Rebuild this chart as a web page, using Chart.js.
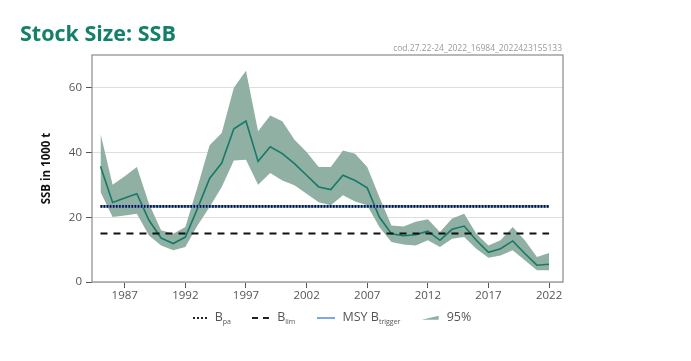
<!DOCTYPE html>
<html>
<head>
<meta charset="utf-8">
<script src="https://cdn.jsdelivr.net/npm/chart.js@4"></script>
<style>
  body { margin: 0; background: #fff; font-family: "Open Sans", sans-serif; }
  #wrap { position: relative; width: 691px; height: 361px; }
  #chart { position: absolute; left: 0; top: 0; }
  .title { position: absolute; left: 20px; top: 18px; font-size: 21.5px; font-weight: 700; color: #13806a; }
  .code { position: absolute; right: 129px; top: 42px; font-size: 8.5px; color: #999; }
  .legend { position: absolute; left: 0; width: 664px; top: 308px; text-align: center; font-size: 12.5px; color: #555; }
  .legend span.item { display: inline-block; margin: 0 9px; }
  .legend sub { font-size: 7px; vertical-align: -3px; }
  .ico { display: inline-block; width: 16px; height: 0; vertical-align: middle; margin-right: 8px; }
</style>
</head>
<body>
<div id="wrap">
  <canvas id="chart" width="691" height="361"></canvas>
  <div class="title">Stock Size: SSB</div>
  <div class="code">cod.27.22-24_2022_16984_2022423155133</div>
  <div class="legend">
    <span class="item"><span class="ico" style="border-top:2px dotted #222;width:14px"></span>B<sub>pa</sub></span>
    <span class="item"><span class="ico" style="border-top:2px dashed #222;width:17px"></span>B<sub>lim</sub></span>
    <span class="item"><span class="ico" style="border-top:2px solid #7aa7ef;width:18px"></span>MSY B<sub>trigger</sub></span>
    <span class="item"><span class="ico" style="height:4px;width:17px;background:#8fb0a2;clip-path:polygon(0 100%,100% 0,100% 100%)"></span>95%</span>
  </div>
</div>
<script>
// Data
const years = [];
for (let y = 1985; y <= 2022; y++) years.push(y);

const ssb = [35.8, 24.6, 26.0, 27.3, 19.1, 13.6, 11.9, 13.9, 22.7, 32.0,
  36.8, 47.4, 49.8, 37.3, 41.8, 39.7, 36.6, 33.0, 29.4, 28.6,
  33.0, 31.4, 29.1, 20.1, 14.9, 14.3, 14.6, 15.7, 12.9, 16.3,
  17.3, 12.9, 9.2, 10.3, 12.7, 8.8, 5.2, 5.5];
const ssbHigh = [45.9, 30.1, 32.7, 35.6, 24.2, 16.0, 14.9, 17.0, 29.4, 42.3,
  46.1, 60.1, 65.3, 46.6, 51.5, 49.7, 44.0, 40.2, 35.6, 35.6,
  40.7, 39.7, 35.6, 26.3, 17.5, 17.2, 18.6, 19.4, 15.5, 19.6,
  21.1, 14.9, 11.3, 12.9, 17.0, 12.9, 7.7, 9.0];
const ssbLow = [27.8, 20.1, 20.6, 21.1, 14.4, 11.3, 9.8, 10.8, 17.5, 23.2,
  29.4, 37.6, 37.8, 30.1, 33.7, 31.4, 29.9, 27.3, 24.7, 23.7,
  26.8, 24.9, 23.7, 17.0, 12.4, 11.6, 11.3, 12.9, 10.8, 13.4,
  13.9, 10.3, 7.5, 8.2, 9.8, 6.7, 3.6, 3.6];

const bpa = 23.4;
const blim = 15.0;
const msyBtrigger = 23.4;

const xTicks = [1987, 1992, 1997, 2002, 2007, 2012, 2017, 2022];
const yTicks = [0, 20, 40, 60];

const pts = arr => arr.map((v, i) => ({ x: years[i], y: v }));
const flat = v => [{ x: years[0], y: v }, { x: years[years.length - 1], y: v }];

// frame round the plot area
const frame = {
  id: "frame",
  afterDraw(chart) {
    const { ctx, chartArea: a } = chart;
    ctx.save();
    ctx.strokeStyle = "#8a8a8a";
    ctx.lineWidth = 1.2;
    ctx.strokeRect(a.left, a.top, a.right - a.left, a.bottom - a.top);
    ctx.restore();
  },
};

const tickFont = { family: "Open Sans", size: 11.5 };

new Chart(document.getElementById("chart"), {
  type: "line",
  data: {
    datasets: [
      { label: "Bpa", data: flat(bpa), borderColor: "#111", borderWidth: 2.6, borderDash: [1.6, 1.5], pointRadius: 0, order: 0 },
      { label: "MSY Btrigger", data: flat(msyBtrigger), borderColor: "#5f95ef", borderWidth: 2.6, pointRadius: 0, order: 1 },
      { label: "Blim", data: flat(blim), borderColor: "#111", borderWidth: 2, borderDash: [7, 6], pointRadius: 0, order: 2 },
      { label: "SSB", data: pts(ssb), borderColor: "#17796a", borderWidth: 1.6, pointRadius: 0, tension: 0, order: 3 },
      { label: "high", data: pts(ssbHigh), borderWidth: 0, pointRadius: 0, backgroundColor: "#8fb0a2", fill: "+1", order: 4 },
      { label: "low", data: pts(ssbLow), borderWidth: 0, pointRadius: 0, fill: false, order: 5 },
    ],
  },
  options: {
    responsive: false,
    animation: false,
    layout: { padding: { top: 55, right: 128, left: 0, bottom: 0 } },
    plugins: { legend: { display: false }, tooltip: { enabled: false } },
    scales: {
      x: {
        type: "linear",
        min: 1984.3,
        max: 2023.15,
        afterBuildTicks: s => { s.ticks = xTicks.map(v => ({ value: v })); },
        afterFit: s => { s.height = 79; },
        grid: { drawOnChartArea: false, drawTicks: true, tickLength: 6, color: "#555" },
        border: { display: false },
        ticks: { color: "#555", font: tickFont, padding: 1, maxRotation: 0, callback: v => String(v) },
      },
      y: {
        min: 0,
        max: 70.2,
        afterBuildTicks: s => { s.ticks = yTicks.map(v => ({ value: v })); },
        afterFit: s => { s.width = 92; },
        grid: { color: "#dedede", tickColor: "#555", tickLength: 6 },
        border: { display: false },
        title: { display: true, text: "SSB in 1000 t", color: "#111", font: { family: "Open Sans", size: 11.5, weight: "bold" }, padding: { top: 40, bottom: 0 } },
        ticks: { color: "#555", font: tickFont, padding: 4 },
      },
    },
  },
  plugins: [frame],
});
</script>
</body>
</html>
